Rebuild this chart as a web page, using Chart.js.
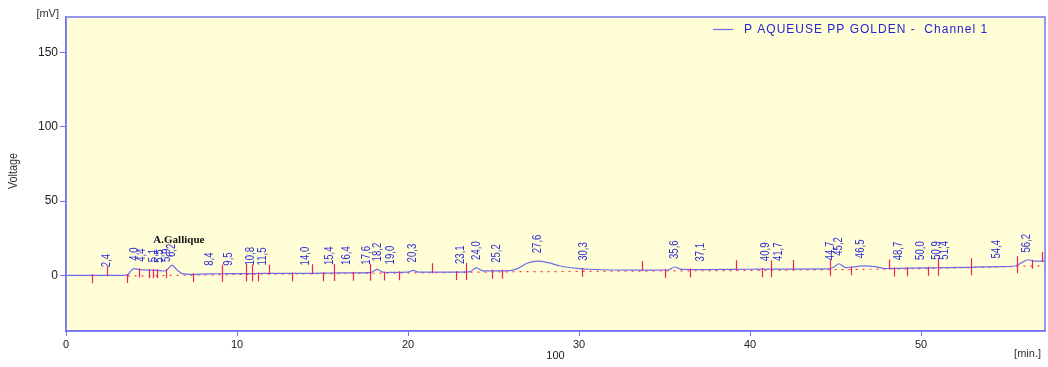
<!DOCTYPE html>
<html>
<head>
<meta charset="utf-8">
<script src="https://cdn.jsdelivr.net/npm/chart.js@4.4.1/dist/chart.umd.min.js"></script>
<style>
  html, body { margin: 0; padding: 0; background: #ffffff; }
  #wrap { width: 1048px; height: 367px; position: relative; }
</style>
</head>
<body>
<div id="wrap"><canvas id="chromato"></canvas></div>
<script>
// ---- data ----
const traceTimes = [0, 1.5, 3.4, 3.6, 3.8, 4.0, 4.3, 4.8, 5.3, 5.7, 5.9, 6.2, 6.5, 6.8, 7.4, 8.4, 9.5, 10.8, 11.5, 14.0, 16.0, 17.8, 18.2, 18.6, 19.5, 20.0, 20.3, 20.6, 23.0, 23.6, 24.0, 24.4, 25.2, 25.8, 26.4, 27.0, 27.6, 28.2, 28.9, 29.9, 30.6, 32.0, 34.0, 35.2, 35.6, 36.0, 37.1, 40.0, 41.7, 44.6, 44.9, 45.2, 45.6, 46.0, 46.6, 47.3, 48.0, 48.7, 50.0, 51.0, 52.9, 54.4, 55.5, 55.8, 56.3, 56.6, 57.0, 57.3];
const traceMv    = [0, 0, 0, 0.3, 3.2, 4.5, 3.8, 3.5, 3.4, 2.9, 3.6, 6.9, 3.5, 1.2, 0.7, 1.0, 1.1, 1.2, 1.3, 1.3, 1.6, 1.8, 4.0, 1.9, 2.0, 2.1, 3.3, 2.1, 2.2, 2.3, 5.0, 3.0, 3.0, 3.0, 4.5, 8.3, 9.5, 8.5, 6.3, 4.7, 4.1, 3.6, 3.5, 3.6, 5.6, 4.0, 3.9, 4.1, 4.2, 4.3, 5.5, 7.8, 5.2, 5.6, 6.3, 5.8, 4.6, 4.7, 5.0, 5.1, 5.4, 5.9, 6.3, 8.0, 10.5, 9.5, 9.6, 9.6];

const baseTimes = [3.6, 10.0, 20.0, 26.0, 33.0, 40.0, 45.0, 50.0, 55.0, 57.3];
const baseMv    = [-0.5, 0.6, 1.6, 2.4, 2.8, 3.3, 3.8, 4.5, 5.8, 6.5];

const peakTimes = [2.4, 4.0, 4.4, 5.1, 5.5, 5.9, 6.2, 8.4, 9.5, 10.8, 11.5, 14.0, 15.4, 16.4, 17.6, 18.2, 19.0, 20.3, 23.1, 24.0, 25.2, 27.6, 30.3, 35.6, 37.1, 40.9, 41.7, 44.7, 45.2, 46.5, 48.7, 50.0, 50.9, 51.4, 54.4, 56.2];
const tickUpTimes = [2.4, 9.1, 10.5, 10.9, 11.9, 14.4, 15.7, 17.8, 21.4, 23.4, 33.7, 39.2, 41.2, 42.5, 44.7, 48.1, 51.0, 52.9, 55.6, 57.1];
const tickDownTimes = [1.5, 3.57, 4.27, 4.87, 5.1, 5.3, 5.85, 7.45, 9.1, 10.5, 10.9, 11.2, 13.2, 15.0, 15.7, 16.8, 17.8, 18.6, 19.5, 22.8, 23.4, 24.9, 25.5, 30.2, 35.0, 36.5, 40.7, 41.2, 44.7, 45.9, 48.4, 49.2, 50.4, 51.0, 52.9, 55.6, 56.5];

const xTicks = [0, 10, 20, 30, 40, 50];
const yTicks = [0, 50, 100, 150];
const namedPeak = { label: 'A.Gallique', time: 6.6, mv: 23.5 };
const seriesName = 'P AQUEUSE PP GOLDEN -  Channel 1';

// ---- helpers ----
function valueAt(times, vals, t) {
    if (t <= times[0]) return vals[0];
    for (let i = 1; i < times.length; i++) {
        if (t <= times[i]) {
            const f = (t - times[i - 1]) / (times[i] - times[i - 1]);
            return vals[i - 1] + f * (vals[i] - vals[i - 1]);
        }
    }
    return vals[vals.length - 1];
}

const BLUE = '#6c6ce8';
const FRAME = '#7474f2';
const RED = '#f01e64';
const AXIS_FONT = { size: 11, family: "'Liberation Sans', Arial, sans-serif" };

const extras = {
    id: 'extras',
    beforeDraw(chart) {
        const { ctx, chartArea: a } = chart;
        ctx.save();
        ctx.fillStyle = '#fffed6';
        ctx.fillRect(a.left, a.top, a.right - a.left, a.bottom - a.top);
        ctx.restore();
    },
    afterDatasetsDraw(chart) {
        const { ctx, chartArea: a, scales: { x, y } } = chart;
        ctx.save();

        // frame round the plot area
        ctx.strokeStyle = FRAME;
        ctx.lineWidth = 1.5;
        ctx.strokeRect(a.left, a.top, a.right - a.left, a.bottom - a.top);

        // integration ticks
        ctx.strokeStyle = RED;
        ctx.lineWidth = 1.2;
        ctx.beginPath();
        tickUpTimes.forEach(t => {
            const px = Math.round(x.getPixelForValue(t)) + 0.5;
            const py = y.getPixelForValue(valueAt(traceTimes, traceMv, t));
            ctx.moveTo(px, py + 1);
            ctx.lineTo(px, py - 9);
        });
        tickDownTimes.forEach(t => {
            const px = Math.round(x.getPixelForValue(t)) + 0.5;
            const py = y.getPixelForValue(valueAt(traceTimes, traceMv, t));
            ctx.moveTo(px, py - 1);
            ctx.lineTo(px, py + 8);
        });
        ctx.stroke();

        // retention time labels
        ctx.fillStyle = '#2c2cd8';
        ctx.font = "12px 'Liberation Sans', sans-serif";
        ctx.textAlign = 'left';
        ctx.textBaseline = 'middle';
        peakTimes.forEach(t => {
            const px = x.getPixelForValue(t);
            const py = y.getPixelForValue(valueAt(traceTimes, traceMv, t));
            ctx.save();
            ctx.translate(px, py - 8);
            ctx.rotate(-Math.PI / 2);
            ctx.scale(0.8, 1);
            ctx.fillText(t.toFixed(1).replace('.', ','), 0, 0);
            ctx.restore();
        });

        // named peak
        ctx.fillStyle = '#111111';
        ctx.font = "bold 11px 'Liberation Serif', serif";
        ctx.textAlign = 'center';
        ctx.fillText(namedPeak.label, x.getPixelForValue(namedPeak.time), y.getPixelForValue(namedPeak.mv));

        // legend
        ctx.strokeStyle = BLUE;
        ctx.lineWidth = 1.2;
        ctx.beginPath();
        ctx.moveTo(713, 29.5);
        ctx.lineTo(733, 29.5);
        ctx.stroke();
        ctx.fillStyle = '#2424d0';
        ctx.font = "12px 'Liberation Sans', Arial, sans-serif";
        ctx.letterSpacing = '1px';
        ctx.textAlign = 'left';
        ctx.fillText(seriesName, 744, 30);
        ctx.letterSpacing = '0px';

        // units and axis name
        ctx.fillStyle = '#333333';
        ctx.font = "11px 'Liberation Sans', Arial, sans-serif";
        ctx.textAlign = 'right';
        ctx.fillText('[mV]', a.left - 7, 14);
        ctx.fillText('[min.]', a.right - 4, 354);
        ctx.save();
        ctx.translate(14, 171);
        ctx.rotate(-Math.PI / 2);
        ctx.textAlign = 'center';
        ctx.font = "12px 'Liberation Sans', Arial, sans-serif";
        ctx.scale(0.9, 1);
        ctx.fillText('Voltage', 0, 0);
        ctx.restore();
        ctx.restore();
    }
};

new Chart(document.getElementById('chromato'), {
    type: 'line',
    data: {
        datasets: [{
            label: seriesName,
            data: traceTimes.map((t, i) => ({ x: t, y: traceMv[i] })),
            borderColor: BLUE,
            borderWidth: 1.2,
            pointRadius: 0,
            cubicInterpolationMode: 'monotone',
            order: 1
        }, {
            label: 'baseline',
            data: baseTimes.map((t, i) => ({ x: t, y: baseMv[i] })),
            borderColor: '#ff3355',
            borderWidth: 1.2,
            borderDash: [2, 5],
            pointRadius: 0,
            order: 2
        }]
    },
    options: {
        responsive: true,
        maintainAspectRatio: false,
        animation: false,
        layout: { padding: { top: 17, right: 3, left: 0, bottom: 0 } },
        plugins: { legend: { display: false }, tooltip: { enabled: false } },
        scales: {
            x: {
                type: 'linear',
                min: 0,
                max: 57.25,
                afterBuildTicks(s) { s.ticks = xTicks.map(v => ({ value: v })); },
                border: { color: FRAME, width: 1.5 },
                grid: { drawOnChartArea: false, color: FRAME, tickLength: 5 },
                ticks: { color: '#222', font: AXIS_FONT, maxRotation: 0, padding: 2 },
                title: { display: true, text: '100', color: '#222', font: AXIS_FONT, padding: { top: 0 } },
                afterFit(s) { s.height = 36; }
            },
            y: {
                min: -37.5,
                max: 174,
                afterBuildTicks(s) { s.ticks = yTicks.map(v => ({ value: v })); },
                border: { color: FRAME, width: 1.5 },
                grid: { drawOnChartArea: false, color: FRAME, tickLength: 6 },
                ticks: { color: '#222', font: { size: 12, family: "'Liberation Sans', Arial, sans-serif" }, padding: 2 },
                afterFit(s) { s.width = 66; }
            }
        }
    },
    plugins: [extras]
});
</script>
</body>
</html>
